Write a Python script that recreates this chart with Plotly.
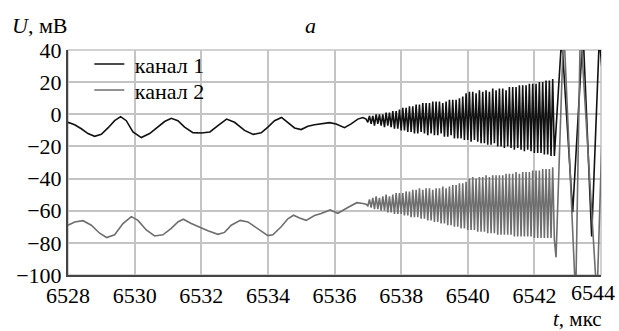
import plotly.graph_objects as go

# ---- channel 1 (black): slow part ----
ch1_slow_t = [6528.0, 6528.2, 6528.4, 6528.6, 6528.8, 6529.0, 6529.2, 6529.4, 6529.58, 6529.75,
              6529.95, 6530.2, 6530.45, 6530.7, 6530.9, 6531.1, 6531.3, 6531.5, 6531.75, 6532.0,
              6532.26, 6532.5, 6532.76, 6533.0, 6533.3, 6533.56, 6533.8, 6534.0, 6534.2, 6534.41,
              6534.6, 6534.8, 6535.0, 6535.2, 6535.4, 6535.6, 6535.85, 6536.05, 6536.3, 6536.5,
              6536.7, 6536.85, 6536.95]
ch1_slow_v = [-5, -6.5, -9, -12, -13.7, -12.5, -8.5, -4, -1.5, -4,
              -11, -14.5, -12, -8, -4.5, -2.5, -4, -8, -11.4, -11.6,
              -11, -7, -3, -5, -10, -12.5, -11.5, -8, -4, -2,
              -5, -8.5, -9.5, -7.5, -6.5, -6, -5.2, -6, -8.3, -6,
              -3, -2, -3]

# ---- channel 2 (gray): slow part ----
ch2_slow_t = [6528.0, 6528.2, 6528.45, 6528.7, 6528.95, 6529.16, 6529.4, 6529.65, 6529.9, 6530.1,
              6530.35, 6530.6, 6530.85, 6531.1, 6531.3, 6531.46, 6531.7, 6531.96, 6532.2, 6532.5,
              6532.7, 6532.9, 6533.17, 6533.4, 6533.7, 6534.0, 6534.15, 6534.4, 6534.6, 6534.77,
              6534.95, 6535.15, 6535.4, 6535.6, 6535.87, 6536.1, 6536.4, 6536.67, 6536.85, 6536.95]
ch2_slow_v = [-69, -67, -66.2, -69, -74, -76.7, -75, -68, -63.7, -66,
              -72, -75.7, -75, -71, -67, -65.3, -68, -70.5, -72.5, -74.7,
              -73.5, -69, -66, -67, -71, -75.5, -75, -70, -65, -62.8,
              -64.5, -66, -63, -61.8, -59.5, -61.6, -58, -55, -55.5, -56]

# ---- fast oscillation: one minimum and one maximum per cycle ----
hf_t_low = [6537.0, 6537.1, 6537.2, 6537.3, 6537.4, 6537.5, 6537.6, 6537.7, 6537.8, 6537.9,
            6538.0, 6538.1, 6538.2, 6538.3, 6538.4, 6538.5, 6538.6, 6538.7, 6538.8, 6538.9,
            6539.0, 6539.1, 6539.2, 6539.3, 6539.4, 6539.5, 6539.6, 6539.7, 6539.8, 6539.9,
            6540.0, 6540.1, 6540.2, 6540.3, 6540.4, 6540.5, 6540.6, 6540.7, 6540.8, 6540.9,
            6541.0, 6541.1, 6541.2, 6541.3, 6541.4, 6541.5, 6541.6, 6541.7, 6541.8, 6541.9,
            6542.0, 6542.1, 6542.2, 6542.3, 6542.4, 6542.5]
hf_t_high = [6537.05, 6537.15, 6537.25, 6537.35, 6537.45, 6537.55, 6537.65, 6537.75, 6537.85, 6537.95,
             6538.05, 6538.15, 6538.25, 6538.35, 6538.45, 6538.55, 6538.65, 6538.75, 6538.85, 6538.95,
             6539.05, 6539.15, 6539.25, 6539.35, 6539.45, 6539.55, 6539.65, 6539.75, 6539.85, 6539.95,
             6540.05, 6540.15, 6540.25, 6540.35, 6540.45, 6540.55, 6540.65, 6540.75, 6540.85, 6540.95,
             6541.05, 6541.15, 6541.25, 6541.35, 6541.45, 6541.55, 6541.65, 6541.75, 6541.85, 6541.95,
             6542.05, 6542.15, 6542.25, 6542.35, 6542.45, 6542.55]
ch1_hf_low = [-5, -6, -7, -6, -7, -8, -7, -8, -9, -9,
              -10, -10, -11, -11, -12, -12, -11, -12, -13, -12,
              -13, -13, -12, -14, -14, -13, -15, -15, -15, -16,
              -16, -17, -16, -17, -18, -18, -19, -19, -18, -20,
              -20, -21, -20, -21, -22, -21, -22, -23, -22, -23,
              -24, -24, -24, -25, -25, -26]
ch1_hf_high = [-1, -1, 0, 0, 0, 1, 1, 2, 2, 3,
               4, 4, 5, 5, 6, 6, 7, 7, 7, 8,
               8, 8, 7, 8, 9, 9, 9, 10, 11, 13,
               14, 14, 13, 15, 14, 15, 14, 16, 15, 16,
               16, 15, 17, 17, 17, 18, 18, 18, 19, 19,
               19, 20, 20, 21, 21, 22]
ch2_hf_low = [-57, -58, -59, -59, -60, -60, -61, -61, -62, -62,
              -62, -63, -63, -64, -64, -64, -65, -65, -66, -66,
              -67, -67, -68, -68, -69, -69, -70, -70, -71, -71,
              -72, -72, -72, -73, -73, -73, -74, -74, -74, -75,
              -75, -75, -75, -75, -76, -76, -76, -76, -76, -76,
              -77, -77, -77, -77, -77, -77]
ch2_hf_high = [-53, -52, -51, -52, -51, -50, -51, -50, -49, -49,
               -49, -48, -48, -47, -47, -46, -47, -46, -46, -47,
               -46, -46, -45, -46, -45, -44, -44, -43, -43, -42,
               -40, -39, -40, -39, -39, -38, -39, -38, -38, -38,
               -38, -37, -37, -37, -36, -37, -36, -36, -36, -35,
               -35, -35, -34, -34, -34, -33]

# ---- final large swings (partly beyond the axis range) ----
ch1_end_t = [6542.6, 6542.82, 6543.15, 6543.46, 6543.72, 6543.95, 6544.1]
ch1_end_v = [-26, 48, -61, 52, -76, 48, 10]
ch2_end_t = [6542.6, 6542.65, 6542.88, 6543.24, 6543.38, 6543.88, 6544.02]
ch2_end_v = [-78, -89, 55, -115, 55, -115, -20]

x_ticks = [6528, 6530, 6532, 6534, 6536, 6538, 6540, 6542, 6544]
y_ticks = [-100, -80, -60, -40, -20, 0, 20, 40]
series_names = ["канал 1", "канал 2"]


def build(slow_t, slow_v, t_lo, v_lo, t_hi, v_hi, end_t, end_v):
    t, v = list(slow_t), list(slow_v)
    for a, b, c, d in zip(t_lo, v_lo, t_hi, v_hi):
        t += [a, c]
        v += [b, d]
    return t + list(end_t), v + list(end_v)


t1, v1 = build(ch1_slow_t, ch1_slow_v, hf_t_low, ch1_hf_low, hf_t_high, ch1_hf_high, ch1_end_t, ch1_end_v)
t2, v2 = build(ch2_slow_t, ch2_slow_v, hf_t_low, ch2_hf_low, hf_t_high, ch2_hf_high, ch2_end_t, ch2_end_v)

FONT = "Liberation Serif"
FS = 22

# last tick label is drawn as an annotation, nudged left so it stays inside the page
x_ticktext = [str(v) for v in x_ticks[:-1]] + [""]

fig = go.Figure()
fig.add_trace(go.Scatter(x=t1, y=v1, mode="lines", name="\u00a0" + series_names[0],
                         legend="legend",
                         line=dict(color="#111111", width=1.6)))
fig.add_trace(go.Scatter(x=t2, y=v2, mode="lines", name="\u00a0" + series_names[1],
                         legend="legend2",
                         line=dict(color="#6e6e6e", width=1.6)))

leg_common = dict(xanchor="left", yanchor="top", bgcolor="rgba(0,0,0,0)", borderwidth=0,
                  font=dict(family=FONT, size=FS), itemwidth=30)

fig.update_layout(
    width=619, height=331,
    margin=dict(l=68, r=18, t=50, b=56),
    paper_bgcolor="white", plot_bgcolor="white",
    font=dict(family=FONT, size=FS, color="black"),
    showlegend=True,
    legend=dict(x=0.04, y=1.03, **leg_common),
    legend2=dict(x=0.04, y=0.915, **leg_common),
    shapes=[
        dict(type="rect", xref="paper", yref="paper", x0=0, y0=0, x1=1, y1=1,
             line=dict(color="#c4c4c4", width=1.5), layer="below"),
        dict(type="rect", xref="paper", yref="paper", x0=0.037, y0=0.77, x1=0.30, y1=0.994,
             line=dict(width=0), fillcolor="white", layer="between"),
    ],
    annotations=[
        dict(text="<i>U</i>, мВ", xref="paper", yref="paper", x=-0.108, y=1.0,
             xanchor="left", yanchor="bottom", yshift=10, showarrow=False,
             font=dict(family=FONT, size=FS)),
        dict(text="<i>a</i>", xref="paper", yref="paper", x=0.455, y=1.0,
             xanchor="center", yanchor="bottom", yshift=10, showarrow=False,
             font=dict(family=FONT, size=FS)),
        dict(text="<i>t</i>, мкс", xref="paper", yref="paper", x=1.005, y=0.0,
             xanchor="right", yanchor="top", yshift=-30, showarrow=False,
             font=dict(family=FONT, size=21)),
        dict(text=str(x_ticks[-1]), xref="paper", yref="paper", x=1.0, y=0.0,
             xanchor="center", yanchor="top", xshift=-8, yshift=-3, showarrow=False,
             font=dict(family=FONT, size=FS)),
    ],
)
fig.update_xaxes(range=[6528, 6544], tickvals=x_ticks, ticktext=x_ticktext,
                 showgrid=True, gridcolor="#c4c4c4", gridwidth=1.5,
                 showline=True, linecolor="#444444", linewidth=2,
                 ticks="", zeroline=False, tickfont=dict(family=FONT, size=FS))
fig.update_yaxes(range=[-100, 40], tickvals=y_ticks,
                 showgrid=True, gridcolor="#c4c4c4", gridwidth=1.5,
                 showline=True, linecolor="#444444", linewidth=2,
                 ticks="", zeroline=False, tickfont=dict(family=FONT, size=FS))

fig.write_html("out.html")
